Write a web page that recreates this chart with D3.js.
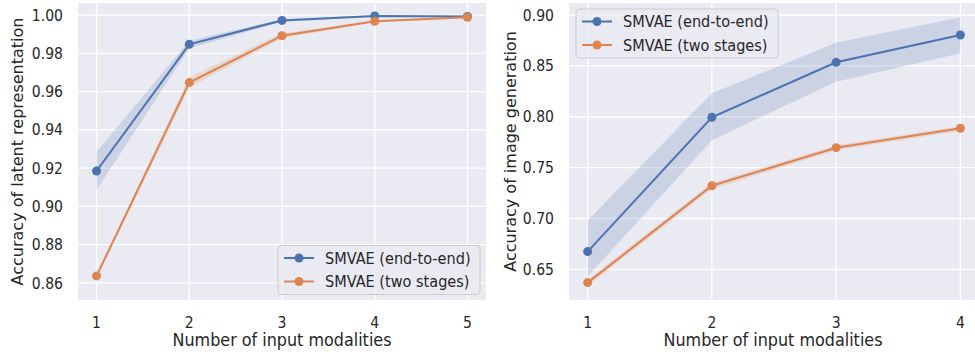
<!DOCTYPE html>
<html>
<head>
<meta charset="utf-8">
<script src="https://cdn.jsdelivr.net/npm/d3@7"></script>
<style>
  body { margin: 0; background: #fff; }
  text { font-family: "DejaVu Sans", sans-serif; fill: #262626; }
</style>
</head>
<body>
<div id="chart"></div>
<script>
// --- data ---
const seriesNames = ['SMVAE (end-to-end)', 'SMVAE (two stages)'];
const colors = ['#4c72b0', '#dd8452'];

// left panel: accuracy of latent representation
const latentX = [1, 2, 3, 4, 5];
const latentEndToEnd = [0.9185, 0.9847, 0.9972, 0.9995, 0.9993];
const latentEndToEndLo = [0.9086, 0.9826, 0.9965, 0.9991, 0.9990];
const latentEndToEndHi = [0.9286, 0.9866, 0.9979, 0.9998, 0.9996];
const latentTwoStage = [0.8637, 0.9647, 0.9892, 0.9967, 0.9988];
const latentTwoStageLo = [0.8627, 0.9622, 0.9878, 0.9961, 0.9984];
const latentTwoStageHi = [0.8647, 0.9675, 0.9905, 0.9973, 0.9992];
const latentYTicks = [0.86, 0.88, 0.90, 0.92, 0.94, 0.96, 0.98, 1.00];

// right panel: accuracy of image generation
const imageX = [1, 2, 3, 4];
const imageEndToEnd = [0.6675, 0.7995, 0.8535, 0.8804];
const imageEndToEndLo = [0.643, 0.777, 0.8345, 0.8624];
const imageEndToEndHi = [0.698, 0.823, 0.8728, 0.8977];
const imageTwoStage = [0.637, 0.7322, 0.7696, 0.7887];
const imageTwoStageLo = [0.634, 0.729, 0.767, 0.786];
const imageTwoStageHi = [0.640, 0.735, 0.772, 0.791];
const imageYTicks = [0.65, 0.70, 0.75, 0.80, 0.85, 0.90];

// the source picture is a bit stretched vertically, so text is too
const TEXT_STRETCH = 1.1;

const svg = d3.select('#chart').append('svg')
  .attr('width', 975)
  .attr('height', 352);

function stretchedText(parent, x, y, size, anchor, str) {
  return parent.append('text')
    .attr('transform', `translate(${x},${y}) scale(1,${TEXT_STRETCH})`)
    .attr('dy', '0.36em')
    .attr('text-anchor', anchor)
    .style('font-size', size)
    .text(str);
}

function drawPanel(opts) {
  const x = d3.scaleLinear().domain(opts.xDomain).range([opts.left, opts.right]);
  const y = d3.scaleLinear().domain(opts.yDomain).range([opts.bottom, opts.top]);

  const clipId = 'clip-' + opts.id;
  svg.append('clipPath').attr('id', clipId)
    .append('rect')
      .attr('x', opts.left).attr('y', opts.top)
      .attr('width', opts.right - opts.left).attr('height', opts.bottom - opts.top);

  const g = svg.append('g');

  // background
  g.append('rect')
    .attr('x', opts.left).attr('y', opts.top)
    .attr('width', opts.right - opts.left)
    .attr('height', opts.bottom - opts.top)
    .attr('fill', '#eaeaf2');

  const grid = g.append('g').attr('clip-path', `url(#${clipId})`);
  grid.selectAll('.gx').data(opts.xs).enter().append('line')
    .attr('x1', d => x(d)).attr('x2', d => x(d))
    .attr('y1', opts.top).attr('y2', opts.bottom)
    .attr('stroke', '#fff').attr('stroke-width', 1.3);
  grid.selectAll('.gy').data(opts.yTicks).enter().append('line')
    .attr('x1', opts.left).attr('x2', opts.right)
    .attr('y1', d => y(d)).attr('y2', d => y(d))
    .attr('stroke', '#fff').attr('stroke-width', 1.3);

  const marks = g.append('g').attr('clip-path', `url(#${clipId})`);
  opts.series.forEach((s, i) => {
    const pts = opts.xs.map((xv, j) => ({x: xv, lo: s.lo[j], hi: s.hi[j]}));
    const area = d3.area().x(d => x(d.x)).y0(d => y(d.lo)).y1(d => y(d.hi));
    marks.append('path')
      .attr('d', area(pts))
      .attr('fill', colors[i]).attr('fill-opacity', 0.2);
  });
  opts.series.forEach((s, i) => {
    const pts = opts.xs.map((xv, j) => ({x: xv, v: s.mean[j]}));
    const line = d3.line().x(d => x(d.x)).y(d => y(d.v));
    marks.append('path')
      .attr('d', line(pts))
      .attr('fill', 'none')
      .attr('stroke', colors[i]).attr('stroke-width', 2);
    marks.selectAll('.pt' + i).data(pts).enter().append('circle')
      .attr('cx', d => x(d.x)).attr('cy', d => y(d.v))
      .attr('r', 4.5)
      .attr('fill', colors[i]);
  });

  // tick labels
  opts.xs.forEach(d => stretchedText(g, x(d), opts.bottom + 22, '14px', 'middle', d));
  opts.yTicks.forEach(d =>
    stretchedText(g, opts.left - 15, y(d), '14px', 'end', d3.format(opts.yFormat)(d)));

  // axis labels
  stretchedText(g, opts.xLabelX, 340, '16px', 'middle', 'Number of input modalities');
  g.append('text')
    .attr('transform', `translate(${opts.yLabelX},${(opts.top + opts.bottom) / 2}) rotate(-90)`)
    .attr('text-anchor', 'middle')
    .style('font-size', '16px')
    .text(opts.yLabel);

  // legend
  const lg = g.append('g').attr('transform', `translate(${opts.legend[0]},${opts.legend[1]})`);
  lg.append('rect')
    .attr('width', 202).attr('height', 49)
    .attr('rx', 3)
    .attr('fill', '#eaeaf2').attr('fill-opacity', 0.8)
    .attr('stroke', '#cccccc').attr('stroke-width', 1);
  seriesNames.forEach((name, i) => {
    const ry = 12.5 + i * 23.5;
    lg.append('line')
      .attr('x1', 6).attr('x2', 36).attr('y1', ry).attr('y2', ry)
      .attr('stroke', colors[i]).attr('stroke-width', 2);
    lg.append('circle').attr('cx', 21).attr('cy', ry).attr('r', 4.5).attr('fill', colors[i]);
    stretchedText(lg, 47, ry, '14.5px', 'start', name);
  });
}

drawPanel({
  id: 'latent',
  left: 78, right: 486, top: 3, bottom: 300,
  xDomain: [0.8, 5.2], yDomain: [0.8511, 1.0063],
  xs: latentX, yTicks: latentYTicks, yFormat: '.2f',
  series: [
    {mean: latentEndToEnd, lo: latentEndToEndLo, hi: latentEndToEndHi},
    {mean: latentTwoStage, lo: latentTwoStageLo, hi: latentTwoStageHi}
  ],
  yLabel: 'Accuracy of latent representation', yLabelX: 23, xLabelX: 282,
  legend: [278, 245.5]
});

drawPanel({
  id: 'image',
  left: 569, right: 979, top: 3, bottom: 300,
  xDomain: [0.85, 4.15], yDomain: [0.6199, 0.9118],
  xs: imageX, yTicks: imageYTicks, yFormat: '.2f',
  series: [
    {mean: imageEndToEnd, lo: imageEndToEndLo, hi: imageEndToEndHi},
    {mean: imageTwoStage, lo: imageTwoStageLo, hi: imageTwoStageHi}
  ],
  yLabel: 'Accuracy of image generation', yLabelX: 516, xLabelX: 773,
  legend: [576, 9]
});
</script>
</body>
</html>
